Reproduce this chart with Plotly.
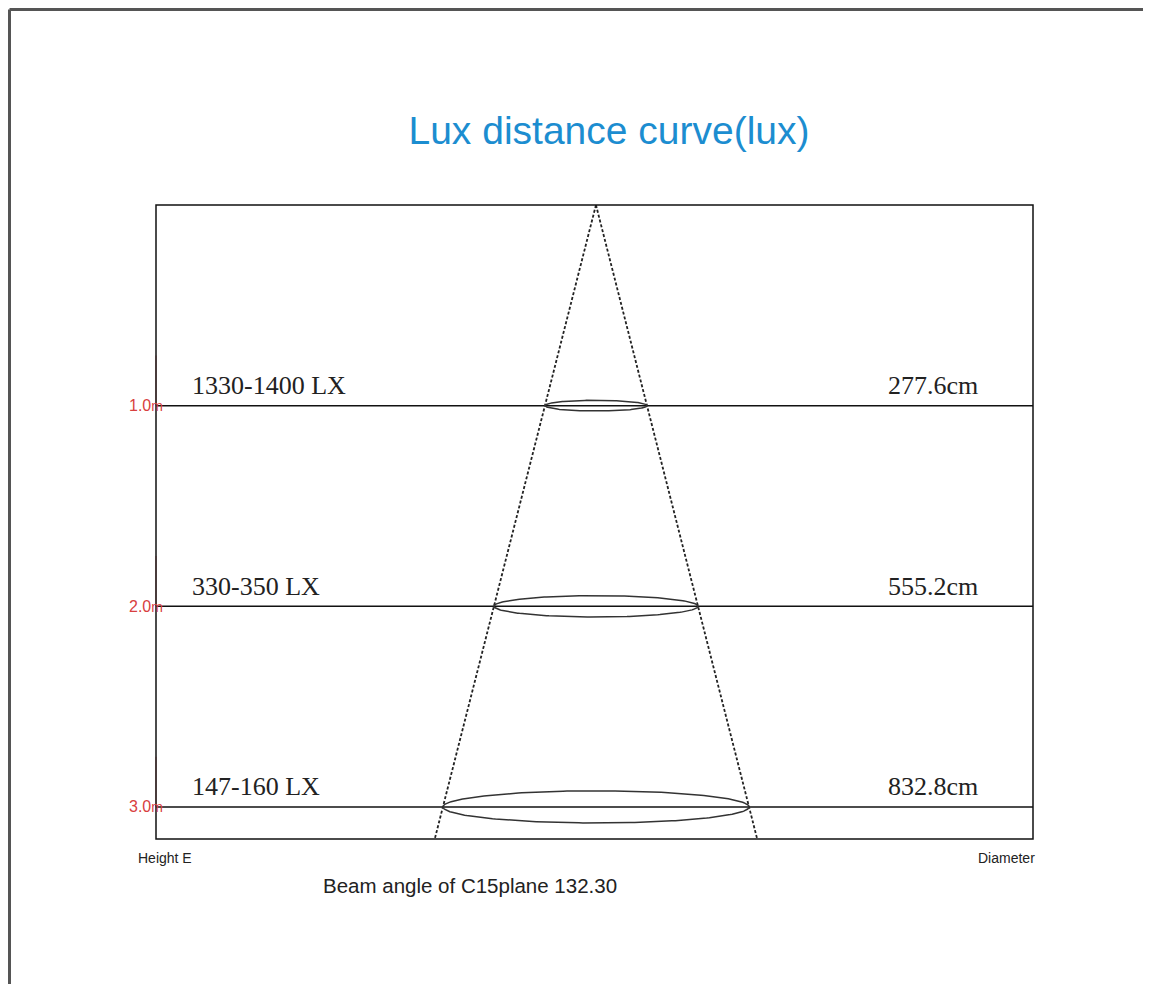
import numpy as np
import plotly.graph_objects as go

# ---- data ----
heights_m = [1.0, 2.0, 3.0]
height_labels = ["1.0", "2.0", "3.0"]
height_unit = "m"
lux_labels = ["1330-1400 LX", "330-350 LX", "147-160 LX"]
diameters_cm = [277.6, 555.2, 832.8]
diameter_labels = ["277.6cm", "555.2cm", "832.8cm"]
title_text = "Lux distance curve(lux)"
beam_text = "Beam angle of C15plane 132.30"

# ---- axes geometry ----
X_RANGE = [-1197, 1189]   # cm, beam centred at 0
Y_MAX = 3.16              # m
OFF = 8                   # page body margin
W, H = 1151 - OFF, 984 - OFF
ML, MR, MT, MB = 156 - OFF, 118, 205 - OFF, 145
plot_w = W - ML - MR
plot_h = H - MT - MB
px_per_cm = plot_w / (X_RANGE[1] - X_RANGE[0])
px_per_m = plot_h / Y_MAX


def px_x(page_x):
    return (page_x - OFF - ML) / plot_w


def px_y(page_y):
    return (H - MB - (page_y - OFF)) / plot_h


fig = go.Figure()

# level lines
for h in heights_m:
    fig.add_trace(go.Scatter(x=X_RANGE, y=[h, h], mode="lines",
                             line=dict(color="#111111", width=1.5),
                             hoverinfo="skip", showlegend=False))

# cone (dashed) from apex through the diameter at the last level
half_slope = diameters_cm[-1] / 2 / heights_m[-1]
for s in (-1, 1):
    fig.add_trace(go.Scatter(x=[0, s * half_slope * Y_MAX], y=[0, Y_MAX], mode="lines",
                             line=dict(color="#222222", width=1.8, dash="3px,2px"),
                             hoverinfo="skip", showlegend=False))

# ellipses
t = np.linspace(0, 2 * np.pi, 240)
for h, d in zip(heights_m, diameters_cm):
    a = d / 2
    b_px = 0.105 * a * px_per_cm
    b = b_px / px_per_m
    fig.add_trace(go.Scatter(x=a * np.cos(t), y=h + b * np.sin(t), mode="lines",
                             line=dict(color="#333333", width=1.5),
                             hoverinfo="skip", showlegend=False))

ann = []
for h, hl, ll, dl in zip(heights_m, height_labels, lux_labels, diameter_labels):
    ann.append(dict(x=px_x(190), xref="paper", y=h, yref="y", text=ll, showarrow=False,
                    xanchor="left", yanchor="middle", yshift=20,
                    font=dict(family="Liberation Serif", size=26, color="#222222")))
    ann.append(dict(x=px_x(980), xref="paper", y=h, yref="y", text=dl, showarrow=False,
                    xanchor="right", yanchor="middle", yshift=20,
                    font=dict(family="Liberation Serif", size=26, color="#222222")))
    ann.append(dict(x=px_x(127), xref="paper", y=h, yref="y",
                    text=hl + "<span style='font-size:14px'>" + height_unit + "</span>",
                    showarrow=False, xanchor="left", yanchor="middle",
                    font=dict(family="Liberation Sans", size=16, color="#d84040")))

ann.append(dict(x=px_x(136), xref="paper", y=px_y(858), yref="paper", text="Height E",
                showarrow=False, xanchor="left", yanchor="middle",
                font=dict(family="Liberation Sans", size=14, color="#222222")))
ann.append(dict(x=px_x(1037), xref="paper", y=px_y(858), yref="paper", text="Diameter",
                showarrow=False, xanchor="right", yanchor="middle",
                font=dict(family="Liberation Sans", size=14, color="#222222")))
ann.append(dict(x=px_x(321), xref="paper", y=px_y(885), yref="paper", text=beam_text,
                showarrow=False, xanchor="left", yanchor="middle",
                font=dict(family="Liberation Sans", size=20.5, color="#222222")))

shapes = [
    # faint red marks on the height axis
    *[dict(type="line", xref="paper", yref="y", x0=0, x1=0, y0=h - 0.25, y1=h,
           line=dict(color="rgba(220,70,70,0.35)", width=2)) for h in heights_m],
    # plot frame
    dict(type="rect", xref="paper", yref="paper", x0=0, x1=1, y0=0, y1=1,
         line=dict(color="#111111", width=1.5)),
    # outer page border (left and top)
    dict(type="line", xref="paper", yref="paper", x0=px_x(9.5), x1=px_x(9.5),
         y0=px_y(1000), y1=px_y(9.5),
         line=dict(color="#555555", width=3)),
    dict(type="line", xref="paper", yref="paper", x0=px_x(9.5), x1=px_x(1170),
         y0=px_y(9.5), y1=px_y(9.5),
         line=dict(color="#555555", width=3)),
]

fig.update_layout(
    width=W, height=H,
    margin=dict(l=ML, r=MR, t=MT, b=MB),
    paper_bgcolor="white", plot_bgcolor="white",
    title=dict(text=title_text, x=px_x(609), xref="paper", xanchor="center",
               y=1 - (130 - OFF) / H, yanchor="middle",
               font=dict(family="Liberation Sans", size=39, color="#1c8dd0")),
    xaxis=dict(range=X_RANGE, showgrid=False, zeroline=False, showticklabels=False,
               ticks="", showline=False, fixedrange=True),
    yaxis=dict(range=[Y_MAX, 0], showgrid=False, zeroline=False, showticklabels=False,
               ticks="", showline=False, fixedrange=True),
    annotations=ann, shapes=shapes, showlegend=False,
)

fig.write_html("out.html")
